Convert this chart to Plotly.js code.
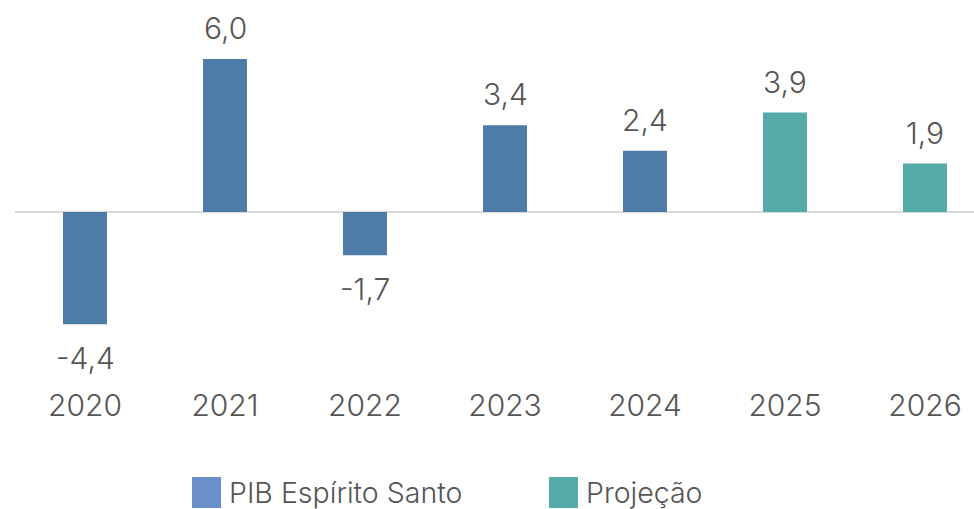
<!DOCTYPE html>
<html>
<head>
<meta charset="utf-8">
<script src="https://cdn.plot.ly/plotly-3.0.1.min.js"></script>
<style>html,body{margin:0;padding:0;background:#fff;overflow:hidden}</style>
</head>
<body>
<div id="chart" style="width:974px;height:509px"></div>
<script>
const years = ['2020','2021','2022','2023','2024','2025','2026'];
const pibYears = ['2020','2021','2022','2023','2024'];
const pibValues = [-4.4, 6.0, -1.7, 3.4, 2.4];
const projYears = ['2025','2026'];
const projValues = [3.9, 1.9];
const seriesNames = ['PIB Espírito Santo', 'Projeção'];
const barColors = ['#4e7ca8', '#55aba8'];
const legendColors = ['#6a8fcb', '#55aba8'];

const W = 974, H = 509;
const mL = 15, mR = 0, mT = 0, mB = 124;
const plotH = H - mT - mB;
const textColor = '#555555';
const fontFam = 'Inter, "Noto Sans", sans-serif';

const traces = [
  {type:'bar', x:pibYears, y:pibValues, name:seriesNames[0], marker:{color:barColors[0]}, showlegend:false},
  {type:'bar', x:projYears, y:projValues, name:seriesNames[1], marker:{color:barColors[1]}, showlegend:false}
];

function fmt(v){ return v.toFixed(1).replace('.', ','); }
const annotations = [];
[[pibYears,pibValues],[projYears,projValues]].forEach(([xs,ys])=>{
  xs.forEach((x,i)=>{
    const v = ys[i];
    annotations.push({x:years.indexOf(x), y:v, xref:'x', yref:'y', text:fmt(v), showarrow:false,
      yanchor:'middle', xanchor:'center', yshift: v>=0 ? 31 : -34,
      font:{family:fontFam, size:30, color:textColor, weight:300}});
  });
});

// manual legend (large swatches)
const legendX = [192, 549];
const shapes = [];
function px2paperX(px){ return (px - mL) / (W - mL - mR); }
function px2paperY(py){ return (H - mB - py) / plotH; }
seriesNames.forEach((n,i)=>{
  const x0 = legendX[i];
  shapes.push({type:'rect', xref:'paper', yref:'paper',
    x0:px2paperX(x0), x1:px2paperX(x0+29), y0:px2paperY(477), y1:px2paperY(508),
    fillcolor:legendColors[i], line:{width:0}});
  annotations.push({xref:'paper', yref:'paper', x:px2paperX(x0+35), y:px2paperY(492),
    xanchor:'left', yanchor:'middle', text:n, showarrow:false,
    font:{family:fontFam, size:28.5, color:textColor, weight:300}});
});

const layout = {
  width:W, height:H,
  margin:{l:mL, r:mR, t:mT, b:mB, pad:0},
  paper_bgcolor:'#fff', plot_bgcolor:'#fff',
  barmode:'overlay',
  bargap:0.686,
  showlegend:false,
  xaxis:{type:'category', categoryorder:'array', categoryarray:years,
    range:[-0.5, 6.35], showgrid:false, zeroline:false, showline:false, ticks:'',
    tickfont:{family:fontFam, size:30, color:textColor, weight:300}, ticklabelstandoff:0, fixedrange:true},
  yaxis:{range:[-plotH/25.5 + 212/25.5, 212/25.5], showgrid:false, showticklabels:false,
    zeroline:true, zerolinecolor:'#d9d9d9', zerolinewidth:2, ticks:'', fixedrange:true},
  annotations:annotations,
  shapes:shapes,
  font:{family:fontFam, color:textColor}
};
Plotly.newPlot('chart', traces, layout, {displayModeBar:false, staticPlot:true});
</script>
</body>
</html>
